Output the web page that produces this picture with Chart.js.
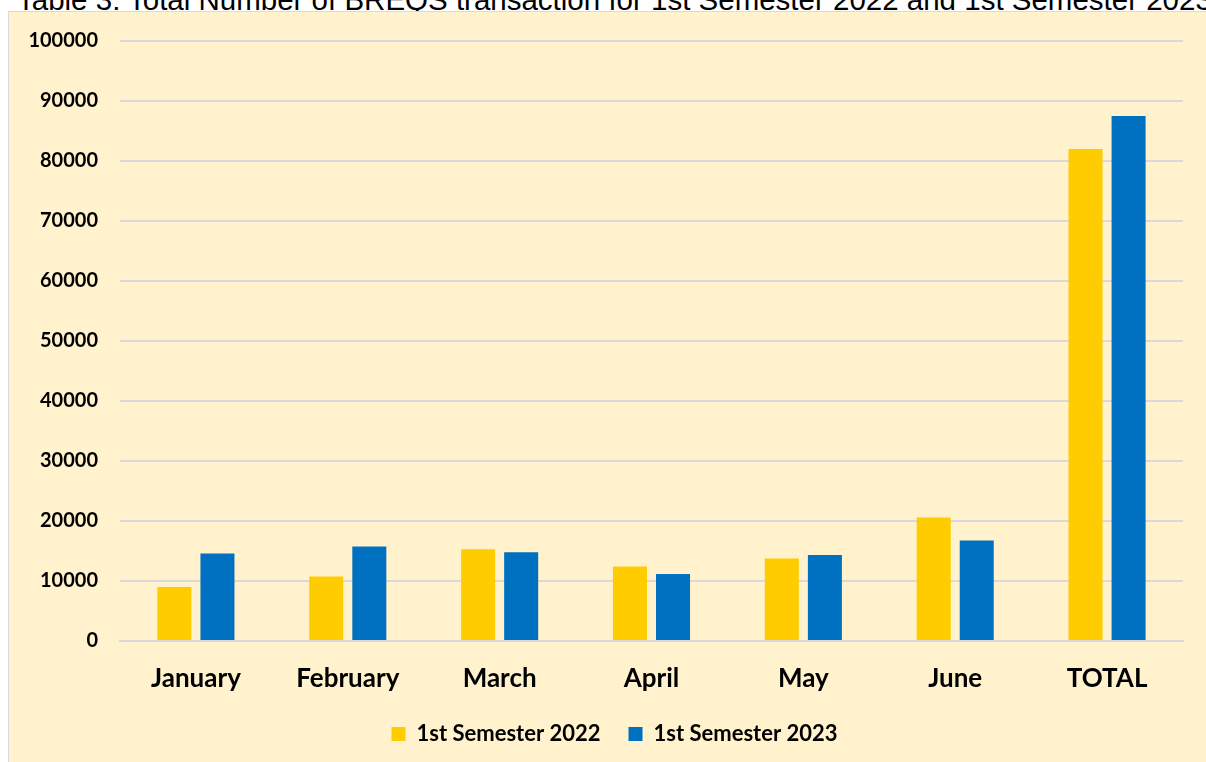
<!DOCTYPE html>
<html>
<head>
<meta charset="utf-8">
<script src="https://cdn.jsdelivr.net/npm/chart.js@4/dist/chart.umd.min.js"></script>
<style>
  html, body { margin: 0; padding: 0; background: #ffffff; width: 1206px; height: 762px; overflow: hidden; position: relative; }
  #title { position: absolute; left: 17px; top: -15.5px; font: 29.5px "Liberation Sans", Arial, sans-serif; line-height: 1; white-space: nowrap; color: #000; }
  #box { position: absolute; left: 8px; top: 11px; width: 1212px; height: 760px; background: #FFF2CC; border-left: 1px solid #D9D9D9; border-top: 1px solid #D9D9D9; box-sizing: border-box; }
  #c { position: absolute; left: 0; top: 0; }
</style>
</head>
<body>
<div id="title">Table 3: Total Number of BREQS transaction for 1st Semester 2022 and 1st Semester 2023</div>
<div id="box"><canvas id="c" width="1211" height="759"></canvas></div>
<script>
const categories = ["January", "February", "March", "April", "May", "June", "TOTAL"];
const seriesNames = ["1st Semester 2022", "1st Semester 2023"];
const semester2022 = [9000, 10750, 15300, 12400, 13750, 20600, 82000];
const semester2023 = [14600, 15750, 14800, 11150, 14350, 16750, 87500];
const yTicks = [0, 10000, 20000, 30000, 40000, 50000, 60000, 70000, 80000, 90000, 100000];

const FONT = "Lato, 'Noto Sans', sans-serif";
new Chart(document.getElementById('c'), {
  type: 'bar',
  data: {
    labels: categories,
    datasets: [
      { label: seriesNames[0], data: semester2022, backgroundColor: '#FFCC00', categoryPercentage: 0.567, barPercentage: 0.79 },
      { label: seriesNames[1], data: semester2023, backgroundColor: '#0070C0', categoryPercentage: 0.567, barPercentage: 0.79 }
    ]
  },
  options: {
    responsive: false,
    animation: false,
    layout: { padding: { top: 29, right: 0, left: 0, bottom: 16 } },
    plugins: {
      legend: {
        position: 'bottom',
        labels: {
          boxWidth: 14, boxHeight: 14, padding: 28,
          color: '#000', font: { family: FONT, size: 22, weight: 'bold' }
        }
      },
      tooltip: { enabled: false }
    },
    scales: {
      x: {
        grid: { display: false, drawTicks: false },
        border: { display: true, color: '#D9D9D9', width: 2 },
        ticks: { color: '#000', padding: 22, font: { family: FONT, size: 26, weight: 'bold' } },
        afterFit: (s) => { s.height = 54; s.paddingLeft = 0; s.paddingRight = 0; }
      },
      y: {
        min: 0, max: 100000,
        afterBuildTicks: (s) => { s.ticks = yTicks.map(v => ({ value: v })); },
        grid: { color: '#D9D9D9', lineWidth: 2, drawTicks: false },
        border: { display: false },
        ticks: { color: '#000', padding: 22, font: { family: FONT, size: 20, weight: 'bold' }, callback: (v) => String(v) },
        afterFit: (s) => { s.width = 111; s.paddingTop = 0; s.paddingBottom = 0; }
      },
      yRightSpace: {
        position: 'right',
        min: 0, max: 1,
        grid: { display: false, drawTicks: false },
        border: { display: false },
        ticks: { display: false },
        afterFit: (s) => { s.width = 37; s.paddingTop = 0; s.paddingBottom = 0; }
      }
    }
  }
});
</script>
</body>
</html>
